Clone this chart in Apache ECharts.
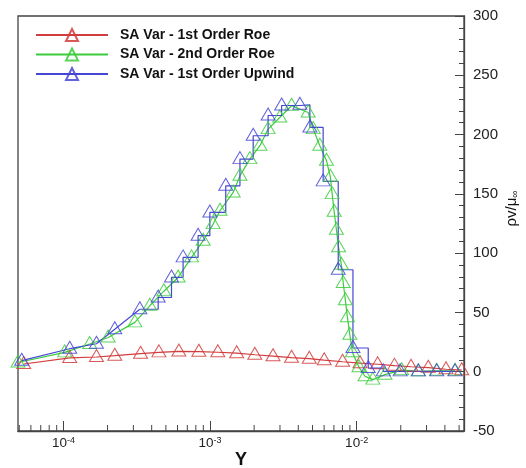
<!DOCTYPE html>
<html><head><meta charset="utf-8">
<script src="https://cdn.jsdelivr.net/npm/echarts@6/dist/echarts.min.js"></script>
<style>html,body{margin:0;padding:0;background:#fff}#c{width:526px;height:468px}</style>
</head><body><div id="c"></div>
<script>
const seriesNames = ['SA Var - 1st Order Roe', 'SA Var - 2nd Order Roe', 'SA Var - 1st Order Upwind'];

const redX = [5.36e-5, 1.104e-4, 1.68e-4, 2.24e-4, 3.36e-4, 4.48e-4, 6.13e-4, 8.39e-4, 1.13e-3, 1.52e-3, 2.02e-3, 2.69e-3, 3.60e-3, 4.75e-3, 6.01e-3, 8.02e-3, 1.054e-2, 1.39e-2, 1.81e-2, 2.35e-2, 3.08e-2, 4.07e-2, 5.21e-2];
const redY = [6.5, 11.6, 12.4, 13.5, 15.2, 16.3, 17.1, 16.9, 16.4, 15.6, 14.3, 13.1, 11.8, 11.0, 9.7, 8.4, 7.2, 6.3, 5.1, 4.2, 3.4, 2.1, 1.3];

const greenX = [4.9e-5, 1.02e-4, 1.51e-4, 2.02e-4, 3.07e-4, 3.88e-4, 4.84e-4, 6.06e-4, 7.48e-4, 8.98e-4, 1.05e-3, 1.17e-3, 1.44e-3, 1.60e-3, 1.87e-3, 2.19e-3, 2.49e-3, 2.99e-3, 3.60e-3, 4.67e-3, 5.06e-3, 5.61e-3, 6.23e-3, 6.62e-3, 6.81e-3, 7.03e-3, 7.28e-3, 7.53e-3, 7.87e-3, 8.10e-3, 8.38e-3, 8.65e-3, 8.99e-3, 9.36e-3, 1.037e-2, 1.14e-2, 1.29e-2, 1.56e-2, 2.03e-2, 2.63e-2, 3.51e-2, 4.69e-2];
const greenY = [7.8, 16.3, 23.4, 28.9, 41.6, 55.6, 67.9, 79.5, 96.4, 110.5, 124.5, 135.8, 151.2, 165.3, 179.3, 190.6, 204.6, 214.4, 224.3, 218.6, 204.6, 190.6, 177.9, 164.4, 149.8, 134.9, 119.7, 105.0, 90.2, 74.8, 60.3, 46.0, 31.2, 16.4, 3.8, -3.8, -6.7, -2.5, 1.3, 0.4, 0.8, 0.8];

const blueX = [5.19e-5, 1.104e-4, 1.68e-4, 2.24e-4, 3.32e-4, 4.43e-4, 5.46e-4, 6.55e-4, 8.29e-4, 9.97e-4, 1.28e-3, 1.60e-3, 1.97e-3, 2.49e-3, 3.08e-3, 4.10e-3, 4.80e-3, 5.91e-3, 7.49e-3, 9.44e-3, 1.20e-2, 1.52e-2, 1.98e-2, 2.64e-2, 3.52e-2, 4.69e-2];
const blueY = [9.3, 19.4, 23.6, 35.8, 52.7, 62.6, 79.5, 96.4, 114.7, 134.3, 156.8, 179.3, 199.0, 216.1, 224.5, 225.1, 206.0, 160.5, 86.0, 20.0, 3.1, 0.3, 0.3, 0.3, 0.3, 0.3];
const blueStepStart = 4; // index from which the upwind curve is drawn as a staircase

const xMin = 4.9e-5, xMax = 0.054;
const yMin = -50, yMax = 300, yInterval = 50;
const xMinorTicks = [5e-5, 6e-5, 7e-5, 8e-5, 9e-5, 2e-4, 3e-4, 4e-4, 5e-4, 6e-4, 7e-4, 8e-4, 9e-4, 2e-3, 3e-3, 4e-3, 5e-3, 6e-3, 7e-3, 8e-3, 9e-3, 2e-2, 3e-2, 4e-2, 5e-2];

const colors = ['#d23c3c', '#3ccc3c', '#4646d6'];
const FONT = "'Liberation Sans', Arial, Helvetica, sans-serif";
const zip = (xs, ys) => xs.map((x, i) => [x, ys[i]]);

function lineSeries(name, color, data, step) {
  return {
    name, type: 'line', data, step: step || false,
    symbol: 'triangle', symbolSize: [14, 12], symbolOffset: [0, -1.5],
    showAllSymbol: true, clip: false, z: 3,
    lineStyle: { color, width: 1.2 },
    itemStyle: { color: 'rgba(255,255,255,0)', borderColor: color, borderWidth: 1, opacity: 0.85 },
    emphasis: { disabled: true }
  };
}

const blueLow = zip(blueX.slice(0, blueStepStart + 1), blueY.slice(0, blueStepStart + 1));
const blueHigh = zip(blueX.slice(blueStepStart), blueY.slice(blueStepStart)).map((p, i) => i === 0 ? { value: p, symbol: 'none' } : p);

const chart = echarts.init(document.getElementById('c'), null, { renderer: 'canvas' });
chart.setOption({
  animation: false,
  backgroundColor: '#fff',
  grid: { left: 18, right: 62, top: 16, bottom: 37, show: true, borderColor: '#444', borderWidth: 1.3, backgroundColor: 'transparent', outerBoundsMode: 'none', containLabel: false },
  legend: {
    data: seriesNames, orient: 'vertical', left: 30, top: 22.5, padding: 5,
    itemWidth: 72, itemHeight: 15, itemGap: 4.5,
    textStyle: { fontFamily: FONT, fontWeight: 'bold', fontSize: 14, color: '#111', lineHeight: 15, padding: [0, 0, 0, 7] },
    selectedMode: false
  },
  xAxis: {
    type: 'log', logBase: 10, min: xMin, max: xMax,
    name: 'Y', nameLocation: 'middle', nameGap: 20, nameMoveOverlap: false,
    nameTextStyle: { fontFamily: FONT, fontWeight: 'bold', fontSize: 18, color: '#111' },
    axisLine: { show: true, onZero: false, lineStyle: { color: '#444', width: 1.3 } },
    axisTick: { show: true, inside: true, length: 10, lineStyle: { color: '#444', width: 1 } },
    splitLine: { show: false },
    axisLabel: {
      showMinLabel: false, showMaxLabel: false, margin: 5,
      formatter: v => { const e = Math.round(Math.log10(v)); return Math.abs(Math.log10(v) - e) < 1e-6 ? '{b|10}{s|' + e + '}' : ''; },
      rich: {
        b: { fontFamily: FONT, fontSize: 13.5, color: '#222', lineHeight: 15 },
        s: { fontFamily: FONT, fontSize: 9, color: '#222', verticalAlign: 'top', lineHeight: 15 }
      }
    }
  },
  yAxis: {
    type: 'value', position: 'right', min: yMin, max: yMax, interval: yInterval,
    name: '{m|ρv/μ}{s|∞}', nameLocation: 'middle', nameRotate: 90, nameGap: 40, nameMoveOverlap: false,
    nameTextStyle: { padding: [0, 0, 0, 30], rich: {
      m: { fontFamily: FONT, fontSize: 15, color: '#111', lineHeight: 16 },
      s: { fontFamily: FONT, fontSize: 10, color: '#111', verticalAlign: 'bottom', lineHeight: 16, padding: [8, 0, 0, 0] }
    } },
    axisLine: { show: true, onZero: false, lineStyle: { color: '#444', width: 1.3 } },
    axisTick: { show: true, inside: true, length: 9, lineStyle: { color: '#444', width: 1 } },
    minorTick: { show: true, splitNumber: 5, length: 5, lineStyle: { color: '#444', width: 1 } },
    splitLine: { show: false }, minorSplitLine: { show: false },
    axisLabel: { fontFamily: FONT, fontSize: 15, color: '#222', margin: 9 }
  },
  series: [
    lineSeries(seriesNames[0], colors[0], zip(redX, redY)),
    lineSeries(seriesNames[1], colors[1], zip(greenX, greenY)),
    lineSeries(seriesNames[2], colors[2], blueLow),
    lineSeries(seriesNames[2], colors[2], blueHigh, 'end'),
    {
      type: 'custom', name: 'minorTicks', silent: true, clip: false, z: 5,
      data: xMinorTicks.map(v => [v, yMin]),
      renderItem: (params, api) => {
        const p = api.coord([api.value(0), api.value(1)]);
        return { type: 'line', shape: { x1: p[0], y1: p[1], x2: p[0], y2: p[1] - 6 }, style: { stroke: '#444', lineWidth: 1 } };
      }
    }
  ]
});
</script></body></html>
